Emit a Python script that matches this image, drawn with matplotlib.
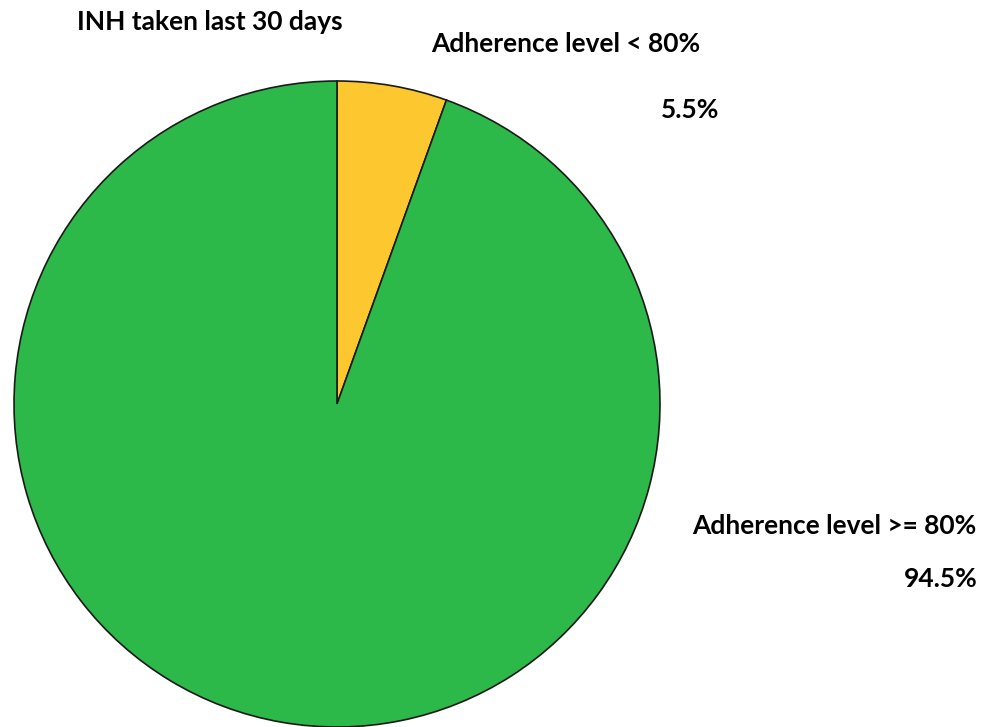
import matplotlib
matplotlib.use("Agg")
import matplotlib.pyplot as plt

# data
labels = ["Adherence level < 80%", "Adherence level >= 80%"]
values = [5.5, 94.5]
pct_labels = ["5.5%", "94.5%"]
colors = ["#fdc82f", "#2db84a"]
title = "INH taken last 30 days"

W, H = 985, 727
fig = plt.figure(figsize=(W / 100, H / 100), dpi=100)

# pie centre (337, 404) px, radius 323 px
cx, cy, r = 337, 404, 323
ax = fig.add_axes([(cx - r) / W, (H - cy - r) / H, 2 * r / W, 2 * r / H])
ax.pie(values, colors=colors, startangle=90, counterclock=False,
       wedgeprops=dict(edgecolor="#1a1a1a", linewidth=1.2))
ax.set_xlim(-1, 1)
ax.set_ylim(-1, 1)
ax.set_aspect("equal")
ax.axis("off")

font = dict(family="Lato", fontweight="bold", fontsize=19, color="black",
            ha="center", va="center")

def px(x, y):
    return x / W, 1 - y / H

fig.text(*px(210, 22), title, **font)
fig.text(*px(566, 44), labels[0], **font)
fig.text(*px(690, 110), pct_labels[0], **font)
fig.text(*px(834, 526), labels[1], **font)
fig.text(*px(941, 579), pct_labels[1], **font)

plt.savefig("out.png", dpi=100)
